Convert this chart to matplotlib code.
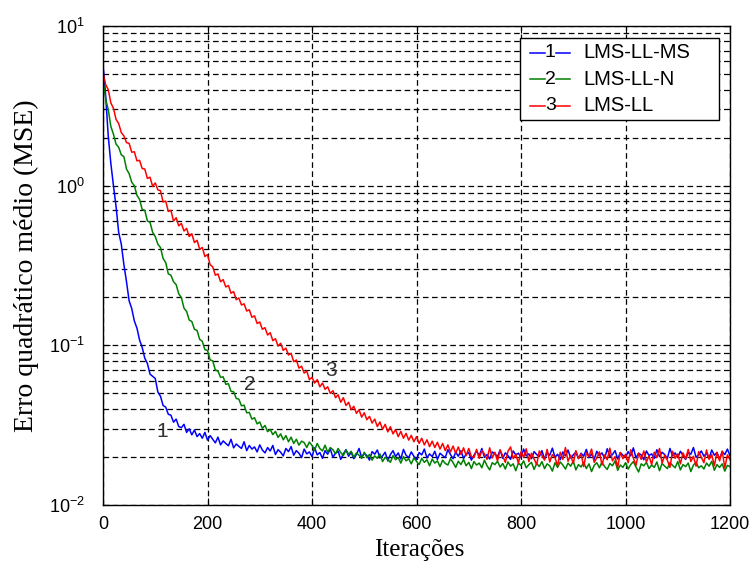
import matplotlib
matplotlib.use("Agg")
import matplotlib.pyplot as plt
from matplotlib.patches import Rectangle
from matplotlib.lines import Line2D

plt.rcParams['font.family'] = ['Liberation Sans', 'DejaVu Sans']

# iteracoes (passo 5) e MSE
iteracoes = list(range(0, 1201, 5))

mse_ms = [
    5.8, 3.7, 2.05, 1.38, 1.0, 0.74, 0.51, 0.43, 0.32, 0.25,
    0.19, 0.17, 0.142, 0.128, 0.108, 0.097, 0.083, 0.077, 0.066, 0.064,
    0.062, 0.051, 0.048, 0.042, 0.041, 0.037, 0.0365, 0.033, 0.0345, 0.031,
    0.0305, 0.032, 0.0285, 0.030, 0.0275, 0.0295, 0.0268, 0.028, 0.0262, 0.0285,
    0.0255, 0.0272, 0.0258, 0.0245, 0.0266, 0.0238, 0.0252, 0.0243, 0.0235, 0.0258,
    0.0228, 0.0241, 0.0233, 0.0226, 0.0249, 0.0219, 0.0236, 0.0224, 0.0231, 0.0215,
    0.0238, 0.0221, 0.0212, 0.0229, 0.0218, 0.0236, 0.0207, 0.0222, 0.0214, 0.0203,
    0.0226, 0.0216, 0.0232, 0.0205, 0.0219, 0.0211, 0.0198, 0.0224, 0.0209, 0.0215,
    0.0201, 0.0228, 0.0206, 0.0213, 0.0196, 0.0219, 0.0208, 0.0224, 0.0199, 0.0211,
    0.0217, 0.0193, 0.0209, 0.0222, 0.0202, 0.0214, 0.0195, 0.0207, 0.0226, 0.0198,
    0.0211, 0.0204, 0.0191, 0.0216, 0.0208, 0.0221, 0.0197, 0.0203, 0.0214, 0.0189,
    0.0207, 0.0219, 0.0201, 0.0212, 0.0194, 0.0223, 0.0205, 0.0198, 0.0215, 0.0202,
    0.0192, 0.0213, 0.0206, 0.0224, 0.0197, 0.0209, 0.0201, 0.0217, 0.0193, 0.0211,
    0.0204, 0.0198, 0.0222, 0.0207, 0.0195, 0.0214, 0.0202, 0.0219, 0.0196, 0.0208,
    0.0213, 0.0191, 0.0205, 0.0218, 0.0203, 0.0226, 0.0199, 0.0207, 0.0194, 0.0215,
    0.0209, 0.0201, 0.0221, 0.0196, 0.0212, 0.0204, 0.0193, 0.0218, 0.0206, 0.0211,
    0.0198, 0.0224, 0.0203, 0.0209, 0.0195, 0.0216, 0.0207, 0.0201, 0.0219, 0.0194,
    0.0212, 0.0205, 0.0227, 0.0199, 0.0208, 0.0192, 0.0215, 0.0203, 0.0221, 0.0197,
    0.0206, 0.0214, 0.0195, 0.0211, 0.0202, 0.0223, 0.0198, 0.0209, 0.0193, 0.0217,
    0.0204, 0.0212, 0.0196, 0.0225, 0.0201, 0.0207, 0.0219, 0.0194, 0.0213, 0.0205,
    0.0199, 0.0216, 0.0203, 0.0228, 0.0197, 0.0211, 0.0206, 0.0192, 0.0218, 0.0204,
    0.0209, 0.0196, 0.0222, 0.0201, 0.0214, 0.0207, 0.0195, 0.0226, 0.0203, 0.0212,
    0.0198, 0.0217, 0.0205, 0.0193, 0.0214, 0.0208, 0.0229, 0.0199, 0.0206, 0.0218,
    0.0202, 0.0211, 0.0196, 0.0221, 0.0205, 0.0213, 0.0194, 0.0216, 0.0207, 0.0224,
    0.0203,
]

mse_n = [
    4.6, 3.5, 3.0, 2.35, 2.1, 1.82, 1.74, 1.56, 1.52, 1.27,
    1.19, 1.05, 1.0, 0.87, 0.82, 0.71, 0.7, 0.6, 0.59, 0.51,
    0.48, 0.43, 0.41, 0.35, 0.33, 0.28, 0.275, 0.25, 0.24, 0.21,
    0.199, 0.171, 0.163, 0.144, 0.141, 0.126, 0.124, 0.109, 0.106, 0.094,
    0.093, 0.081, 0.08, 0.07, 0.069, 0.063, 0.0635, 0.057, 0.0575, 0.0515,
    0.0512, 0.0465, 0.046, 0.0418, 0.0422, 0.0378, 0.038, 0.0345, 0.0352, 0.0322,
    0.0331, 0.0302, 0.0315, 0.0288, 0.0297, 0.0276, 0.0289, 0.0265, 0.0279, 0.0256,
    0.0272, 0.0249, 0.0266, 0.0243, 0.0258, 0.0237, 0.0251, 0.0246, 0.0229, 0.0248,
    0.0236, 0.0221, 0.0243, 0.0226, 0.0218, 0.0237, 0.0214, 0.0229, 0.0222, 0.0209,
    0.0226, 0.0213, 0.0204, 0.0221, 0.0208, 0.0217, 0.0199, 0.0212, 0.0205, 0.0196,
    0.0214, 0.0198, 0.0207, 0.0191, 0.0203, 0.0196, 0.0209, 0.0187, 0.0199, 0.0193,
    0.0185, 0.0204, 0.0192, 0.0198, 0.0183, 0.0201, 0.0189, 0.0195, 0.0181, 0.0197,
    0.0188, 0.0179, 0.0196, 0.0185, 0.0192, 0.0176, 0.0194, 0.0183, 0.0189, 0.0174,
    0.0191, 0.0182, 0.0178, 0.0195, 0.0184, 0.0172, 0.0188, 0.0179, 0.0193, 0.0176,
    0.0185, 0.0169, 0.0187, 0.0178, 0.0183, 0.0171, 0.0191, 0.0176, 0.0166, 0.0184,
    0.0179, 0.0188, 0.0173, 0.0182, 0.0168, 0.0186, 0.0175, 0.0181, 0.0164, 0.0183,
    0.0177, 0.0189, 0.0171, 0.0179, 0.0185, 0.0167, 0.0182, 0.0174, 0.0187, 0.0169,
    0.0181, 0.0176, 0.0163, 0.0184, 0.0172, 0.0186, 0.0178, 0.0168, 0.0183, 0.0175,
    0.0188, 0.0166, 0.0179, 0.0173, 0.0185, 0.0169, 0.0181, 0.0162, 0.0177, 0.0184,
    0.0171, 0.0186, 0.0174, 0.0167, 0.0182, 0.0176, 0.0189, 0.0165, 0.0178, 0.0172,
    0.0184, 0.0168, 0.0179, 0.0187, 0.0173, 0.0161, 0.0181, 0.0176, 0.0185, 0.0169,
    0.0178, 0.0172, 0.0186, 0.0164, 0.0182, 0.0175, 0.0169, 0.0184, 0.0177, 0.0171,
    0.0187, 0.0166, 0.0179, 0.0174, 0.0183, 0.0162, 0.0178, 0.0185, 0.0171, 0.0176,
    0.0168, 0.0183, 0.0175, 0.0188, 0.0165, 0.0179, 0.0172, 0.0181, 0.0163, 0.0177,
    0.0174,
]

mse_ll = [
    5.1, 4.3, 4.0, 3.3, 3.05, 2.6, 2.45, 2.15, 2.05, 1.86,
    1.84, 1.62, 1.63, 1.43, 1.44, 1.28, 1.27, 1.11, 1.13, 0.99,
    1.04, 0.94, 0.93, 0.79, 0.8, 0.69, 0.7, 0.6, 0.63, 0.56,
    0.58, 0.52, 0.54, 0.48, 0.5, 0.44, 0.455, 0.4, 0.41, 0.36,
    0.37, 0.32, 0.31, 0.275, 0.28, 0.25, 0.258, 0.232, 0.237, 0.212,
    0.217, 0.193, 0.198, 0.179, 0.182, 0.164, 0.167, 0.15, 0.153, 0.137,
    0.14, 0.126, 0.129, 0.116, 0.12, 0.107, 0.11, 0.099, 0.103, 0.093,
    0.096, 0.087, 0.089, 0.079, 0.081, 0.072, 0.074, 0.067, 0.069, 0.061,
    0.063, 0.058, 0.061, 0.055, 0.058, 0.053, 0.055, 0.05, 0.052, 0.047,
    0.049, 0.044, 0.047, 0.042, 0.044, 0.0395, 0.0415, 0.0375, 0.0395, 0.0355,
    0.0378, 0.0342, 0.0359, 0.0326, 0.0345, 0.031, 0.0331, 0.0298, 0.032, 0.0287,
    0.0309, 0.0279, 0.0297, 0.0268, 0.0289, 0.0262, 0.0281, 0.0255, 0.0273, 0.0249,
    0.0268, 0.0243, 0.0262, 0.0238, 0.0256, 0.0232, 0.0251, 0.0229, 0.0247, 0.0224,
    0.0243, 0.0219, 0.0238, 0.0215, 0.0234, 0.0211, 0.0231, 0.0207, 0.0228, 0.0204,
    0.0226, 0.0201, 0.0198, 0.0223, 0.0196, 0.0219, 0.0209, 0.0193, 0.0228, 0.0197,
    0.0214, 0.0189, 0.0221, 0.0203, 0.0185, 0.0217, 0.0231, 0.0195, 0.0208, 0.0183,
    0.0216, 0.0199, 0.0225, 0.0187, 0.0211, 0.0194, 0.0179, 0.0218, 0.0204, 0.0191,
    0.0223, 0.0186, 0.0207, 0.0198, 0.0176, 0.0214, 0.0193, 0.0229, 0.0188, 0.0205,
    0.0182, 0.0219, 0.0196, 0.0209, 0.0174, 0.0212, 0.0201, 0.0224, 0.0185, 0.0197,
    0.0215, 0.0178, 0.0206, 0.0192, 0.0227, 0.0189, 0.0201, 0.0172, 0.0213, 0.0195,
    0.0208, 0.0184, 0.0222, 0.0197, 0.0177, 0.0211, 0.0193, 0.0218, 0.0186, 0.0203,
    0.0179, 0.0214, 0.0198, 0.0226, 0.0183, 0.0205, 0.0191, 0.0172, 0.0217, 0.0196,
    0.0209, 0.0181, 0.0212, 0.0194, 0.0223, 0.0187, 0.0202, 0.0175, 0.0216, 0.0199,
    0.0184, 0.0221, 0.0193, 0.0207, 0.0176, 0.0214, 0.0189, 0.0218, 0.0171, 0.0206,
    0.0192,
]

nomes = ['LMS-LL-MS', 'LMS-LL-N', 'LMS-LL']
cores = ['#0000ff', '#008000', '#ff0000']
rotulos = ['1', '2', '3']
# posicao dos numeros das curvas (iteracao, MSE)
pos_rotulos = [(113, 0.0287), (281, 0.0565), (436, 0.070)]

fig = plt.figure(figsize=(7.54, 5.65), dpi=100)
ax = fig.add_axes([0.1366, 0.1062, 0.8316, 0.8478])

for serie, cor in zip([mse_ms, mse_n, mse_ll], cores):
    ax.plot(iteracoes, serie, color=cor, lw=1.1)

ax.set_yscale('log')
ax.set_xlim(0, 1200)
ax.set_ylim(1e-2, 1e1)
ax.set_xticks(range(0, 1201, 200))

ax.grid(True, which='both', color='black', linestyle=(0, (4.5, 2.8)), linewidth=0.9)
ax.tick_params(which='both', direction='in', top=True, right=True, labelsize=13)
ax.tick_params(axis='x', pad=8)
ax.tick_params(axis='y', pad=13)
ax.tick_params(which='major', length=5)
ax.tick_params(which='minor', length=3)
for s in ax.spines.values():
    s.set_linewidth(1.0)

ax.set_xlabel('Iterações', family='Liberation Serif', fontsize=18)
ax.set_ylabel('Erro quadrático médio (MSE)', family='Liberation Serif', fontsize=20)
ax.xaxis.set_label_coords(0.505, -0.072)
ax.yaxis.set_label_coords(-0.102, 0.5)

for txt, (xi, yi) in zip(rotulos, pos_rotulos):
    ax.text(xi, yi, txt, fontsize=15, color='#333333', ha='center', va='center')

# legenda estilo MATLAB
ax.add_patch(Rectangle((0.665, 0.804), 0.317, 0.171, transform=ax.transAxes,
                       facecolor='white', edgecolor='black', lw=1.0, zorder=5))
for k, (nome, cor, num) in enumerate(zip(nomes, cores, rotulos)):
    yk = 0.944 - k * 0.0555
    ax.add_line(Line2D([0.681, 0.705], [yk, yk], transform=ax.transAxes,
                       color=cor, lw=1.1, zorder=6))
    ax.add_line(Line2D([0.722, 0.745], [yk, yk], transform=ax.transAxes,
                       color=cor, lw=1.1, zorder=6))
    ax.text(0.7135, yk, num, transform=ax.transAxes, fontsize=14,
            ha='center', va='center', zorder=6)
    ax.text(0.766, yk, nome, transform=ax.transAxes, fontsize=14.5,
            ha='left', va='center', zorder=6)

fig.savefig('out.png', dpi=100)
